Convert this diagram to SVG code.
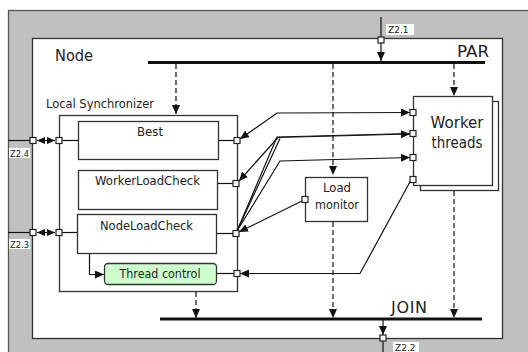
<svg xmlns="http://www.w3.org/2000/svg" width="528" height="352" viewBox="0 0 528 352">
  <defs>
    <marker id="arr" viewBox="0 0 9 8" refX="9" refY="4" markerWidth="9" markerHeight="8" markerUnits="userSpaceOnUse" orient="auto-start-reverse">
      <path d="M0,0 L9,4 L0,8 z" fill="#111"/>
    </marker>
    <marker id="arrs" viewBox="0 0 8 7" refX="8" refY="3.5" markerWidth="8" markerHeight="7" markerUnits="userSpaceOnUse" orient="auto-start-reverse">
      <path d="M0,0 L8,3.5 L0,7 z" fill="#111"/>
    </marker>
  </defs>
  <style>
    text { font-family: "DejaVu Sans", Verdana, sans-serif; fill: #222; }
    .box { fill: #fff; stroke: #333; stroke-width: 1.3; }
    .port { fill: #fff; stroke: #222; stroke-width: 1.2; }
    .ln { fill: none; stroke: #111; stroke-width: 1.2; }
    .dash { fill: none; stroke: #111; stroke-width: 1.2; stroke-dasharray: 5 3; }
    .bar { stroke: #111; stroke-width: 3; }
    .lbl { fill: #fff; }
    .z { font-size: 9px; }
    .t12 { font-size: 12px; }
    .t16 { font-size: 16px; }
  </style>

  <!-- surroundings and node frame -->
  <rect x="8.5" y="10.5" width="530" height="350" fill="#c0c0c0" stroke="#555" stroke-width="1.3"/>
  <g id="node">
    <rect x="32.5" y="38.5" width="470" height="300" class="box"/>
    <text x="55" y="61" class="t16" textLength="38" lengthAdjust="spacingAndGlyphs">Node</text>
  </g>

  <!-- fork and join bars -->
  <g id="par">
    <line x1="148" y1="62.5" x2="485" y2="62.5" class="bar"/>
    <text x="457" y="57" class="t16" textLength="32" lengthAdjust="spacingAndGlyphs">PAR</text>
  </g>
  <g id="join">
    <line x1="160" y1="319" x2="482" y2="319" class="bar"/>
    <text x="391" y="313" class="t16" textLength="36" lengthAdjust="spacing">JOIN</text>
  </g>

  <!-- local synchronizer -->
  <g id="local-synchronizer">
    <rect x="59.5" y="115.5" width="178" height="176" class="box"/>
    <text x="46" y="108" class="t12" textLength="108" lengthAdjust="spacingAndGlyphs">Local Synchronizer</text>
  </g>
  <g id="best">
    <rect x="78.5" y="121.5" width="140" height="38" class="box"/>
    <text x="150" y="136" class="t12" text-anchor="middle" textLength="26" lengthAdjust="spacingAndGlyphs">Best</text>
  </g>
  <g id="worker-load-check">
    <rect x="78.5" y="170.5" width="139" height="39" class="box"/>
    <text x="147.5" y="185" class="t12" text-anchor="middle" textLength="105" lengthAdjust="spacingAndGlyphs">WorkerLoadCheck</text>
  </g>
  <g id="node-load-check">
    <rect x="77.5" y="214.5" width="139" height="39" class="box"/>
    <text x="146.5" y="230" class="t12" text-anchor="middle" textLength="93" lengthAdjust="spacingAndGlyphs">NodeLoadCheck</text>
  </g>
  <g id="thread-control">
    <rect x="104.5" y="263.5" width="112" height="21" rx="3.5" fill="#ccffcc" stroke="#333" stroke-width="1.3"/>
    <text x="160" y="278" class="t12" text-anchor="middle" textLength="81" lengthAdjust="spacingAndGlyphs">Thread control</text>
  </g>

  <!-- load monitor -->
  <g id="load-monitor">
    <rect x="305.5" y="177.5" width="62" height="44" class="box"/>
    <text x="337" y="192" class="t12" text-anchor="middle" textLength="28" lengthAdjust="spacingAndGlyphs">Load</text>
    <text x="337" y="209" class="t12" text-anchor="middle" textLength="44" lengthAdjust="spacingAndGlyphs">monitor</text>
  </g>

  <!-- worker threads (stacked) -->
  <g id="worker-threads">
    <rect x="420.5" y="101.5" width="78" height="89" class="box"/>
    <rect x="413.5" y="96.5" width="79" height="89" class="box"/>
    <text x="457" y="128" class="t16" text-anchor="middle" textLength="53" lengthAdjust="spacingAndGlyphs">Worker</text>
    <text x="457" y="148" class="t16" text-anchor="middle" textLength="51" lengthAdjust="spacingAndGlyphs">threads</text>
  </g>

  <!-- connectors -->
  <g id="connectors">
    <!-- fork / join control flow -->
    <line x1="381" y1="17" x2="381" y2="61" class="ln" marker-end="url(#arr)"/>
    <line x1="176" y1="64" x2="176" y2="114" class="dash" marker-end="url(#arr)"/>
    <line x1="333" y1="64" x2="333" y2="175" class="dash" marker-end="url(#arr)"/>
    <line x1="454" y1="64" x2="454" y2="96" class="dash" marker-end="url(#arr)"/>
    <line x1="196" y1="292" x2="196" y2="318" class="dash" marker-end="url(#arr)"/>
    <line x1="333" y1="222" x2="333" y2="318" class="dash" marker-end="url(#arr)"/>
    <line x1="454" y1="191" x2="454" y2="318" class="dash" marker-end="url(#arr)"/>
    <line x1="383" y1="320" x2="383" y2="335" class="ln" marker-end="url(#arr)"/>
    <line x1="383" y1="341" x2="383" y2="352" class="ln"/>

    <!-- external interfaces -->
    <line x1="8" y1="140.5" x2="30" y2="140.5" class="ln"/>
    <line x1="37" y1="140.5" x2="55" y2="140.5" class="ln" marker-start="url(#arrs)" marker-end="url(#arrs)"/>
    <line x1="62" y1="140.5" x2="78" y2="140.5" class="ln"/>
    <line x1="8" y1="232.5" x2="30" y2="232.5" class="ln"/>
    <line x1="37" y1="232.5" x2="55" y2="232.5" class="ln" marker-start="url(#arrs)" marker-end="url(#arrs)"/>
    <line x1="62" y1="232.5" x2="77" y2="232.5" class="ln"/>

    <!-- box to port stubs -->
    <line x1="219" y1="140.5" x2="234" y2="140.5" class="ln"/>
    <line x1="218" y1="183.5" x2="233" y2="183.5" class="ln"/>
    <line x1="217" y1="233.5" x2="233" y2="233.5" class="ln"/>
    <line x1="217" y1="273.5" x2="234" y2="273.5" class="ln"/>
    <polyline points="89.5,254 89.5,274.5 104,274.5" class="ln" marker-end="url(#arr)"/>

    <!-- synchronizer and worker threads -->
    <polyline points="240,139 277,113 410,112.5" class="ln" marker-start="url(#arr)" marker-end="url(#arr)"/>
    <polyline points="277,137.5 410,134" class="ln" marker-end="url(#arr)"/>
    <polyline points="278,137.5 239,181" class="ln" marker-end="url(#arr)"/>
    <polyline points="237,231 277,137 410,133.5" class="ln"/>
    <polyline points="237,231 280,138.5" class="ln"/>
    <polyline points="237,231 280,161 410,157.5" class="ln" marker-end="url(#arr)"/>
    <line x1="305" y1="199.5" x2="239" y2="232" class="ln" marker-end="url(#arr)"/>
    <polyline points="411,180 360,273.5 240,273.5" class="ln" marker-end="url(#arr)"/>
  </g>

  <!-- ports -->
  <g id="ports">
    <rect x="378" y="37" width="6" height="6" class="port"/>
    <rect x="380" y="335" width="6" height="6" class="port"/>
    <rect x="30" y="137.5" width="6" height="6" class="port"/>
    <rect x="56" y="137.5" width="6" height="6" class="port"/>
    <rect x="30" y="229.5" width="6" height="6" class="port"/>
    <rect x="56" y="229.5" width="6" height="6" class="port"/>
    <rect x="234" y="137.5" width="6" height="6" class="port"/>
    <rect x="233" y="180.5" width="6" height="6" class="port"/>
    <rect x="233" y="230.5" width="6" height="6" class="port"/>
    <rect x="234" y="270.5" width="6" height="6" class="port"/>
    <rect x="302" y="196.5" width="6" height="6" class="port"/>
    <rect x="410" y="109.5" width="6" height="6" class="port"/>
    <rect x="410" y="130.5" width="6" height="6" class="port"/>
    <rect x="410" y="154.5" width="6" height="6" class="port"/>
    <rect x="410" y="176.5" width="6" height="6" class="port"/>
  </g>

  <!-- interface labels -->
  <g id="labels">
    <rect x="386" y="24" width="28" height="11" class="lbl"/>
    <text x="388" y="33" class="z">Z2.1</text>
    <rect x="393" y="342" width="26" height="10" class="lbl"/>
    <text x="395" y="351" class="z">Z2.2</text>
    <rect x="9" y="148" width="21" height="10" class="lbl"/>
    <text x="10" y="157" class="z" textLength="19" lengthAdjust="spacingAndGlyphs">Z2.4</text>
    <rect x="9" y="239" width="21" height="10" class="lbl"/>
    <text x="10" y="248" class="z" textLength="19" lengthAdjust="spacingAndGlyphs">Z2.3</text>
  </g>
</svg>
